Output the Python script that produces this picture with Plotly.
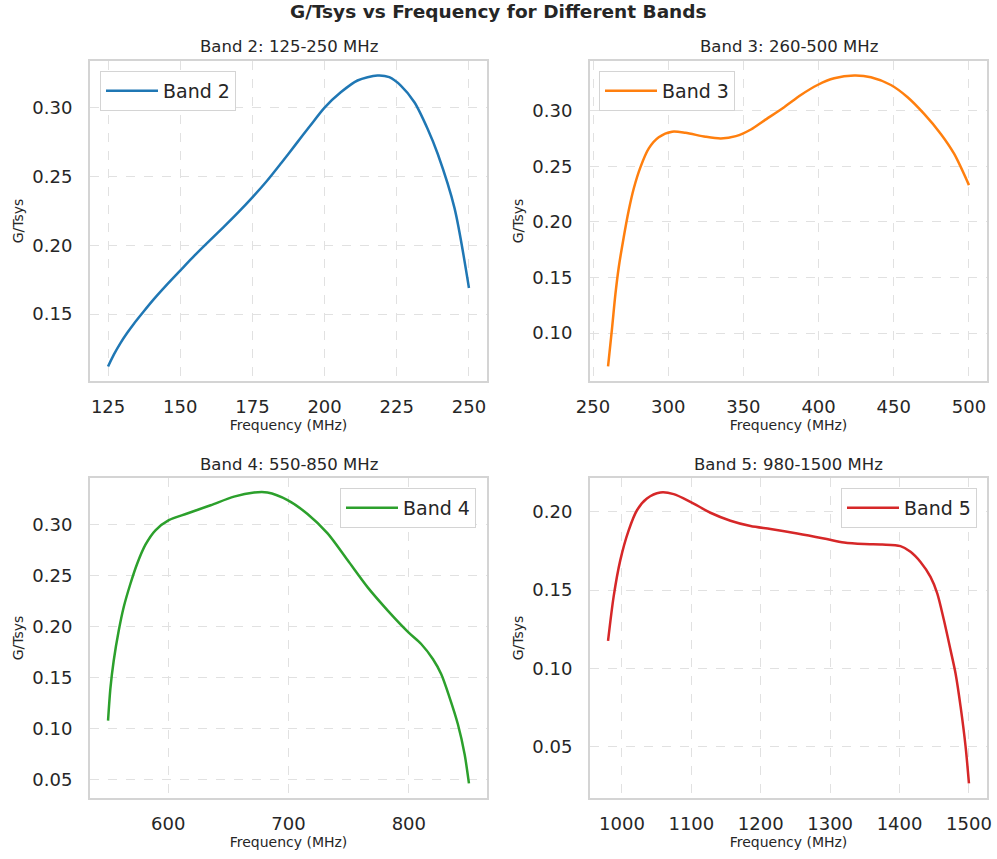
import plotly.graph_objects as go

# ---------------- data ----------------
band2_freq = [125, 127, 129.3, 131.6, 133.9, 137.4, 140.8, 145, 150, 155, 160, 165,
              170, 175, 180, 185, 190, 195, 200, 205.6, 211.4, 218.3, 222.4, 226.4,
              231.1, 235.7, 239.2, 245, 250]
band2_gt = [0.112, 0.1206, 0.129, 0.1363, 0.1429, 0.1521, 0.1607, 0.1705, 0.1816,
            0.1926, 0.2030, 0.2132, 0.2237, 0.2348, 0.2467, 0.2598, 0.2733, 0.2868,
            0.300, 0.3111, 0.3197, 0.3233, 0.3221, 0.316, 0.3039, 0.2845, 0.2663,
            0.227, 0.169]

band3_freq = [260, 262.7, 264.9, 267.1, 270.4, 273.7, 277.1, 281.5, 287.1, 293.7,
              302.6, 311.5, 324.8, 335, 345, 355, 363.8, 377.1, 388.2, 399.3, 410.4,
              423.7, 434.8, 448.1, 459.2, 470.2, 481.3, 490.2, 500]
band3_gt = [0.070, 0.105, 0.135, 0.159, 0.186, 0.210, 0.230, 0.249, 0.266, 0.276,
            0.281, 0.280, 0.2765, 0.275, 0.277, 0.283, 0.291, 0.303, 0.314, 0.323,
            0.329, 0.3315, 0.330, 0.323, 0.312, 0.297, 0.279, 0.261, 0.233]

band4_freq = [550, 552, 554.7, 558.9, 563, 568.6, 574.2, 581.1, 589.4, 600.5, 615.8,
              635.3, 654.7, 671.4, 682.5, 699.2, 715.8, 732.5, 749.2, 766, 782.5,
              799.7, 810.3, 820, 826.9, 833.9, 840.8, 846.4, 850]
band4_gt = [0.108, 0.140, 0.1665, 0.196, 0.2188, 0.2418, 0.2614, 0.280, 0.2941,
            0.304, 0.3105, 0.3186, 0.327, 0.331, 0.331, 0.3236, 0.310, 0.291,
            0.2647, 0.2380, 0.2156, 0.1943, 0.1829, 0.1682, 0.1535, 0.1305, 0.1044,
            0.075, 0.0465]

band5_freq = [980, 988, 997.6, 1009.6, 1021.7, 1036, 1055.3, 1074.6, 1098.6, 1127.5,
              1156.4, 1185.3, 1214.1, 1252.6, 1291, 1320, 1348.9, 1375, 1401.3,
              1415.8, 1430.2, 1444.6, 1454.3, 1463.9, 1473.5, 1480.7, 1488, 1495.2,
              1500]
band5_gt = [0.1176, 0.1457, 0.169, 0.188, 0.201, 0.2085, 0.2123, 0.2113, 0.2064,
            0.1994, 0.1943, 0.1909, 0.189, 0.1862, 0.183, 0.1804, 0.1794, 0.1791,
            0.1781, 0.1745, 0.168, 0.1585, 0.148, 0.1309, 0.1117, 0.0968, 0.0755,
            0.050, 0.0266]

band_names = ["Band 2", "Band 3", "Band 4", "Band 5"]
band_titles = ["Band 2: 125-250 MHz", "Band 3: 260-500 MHz",
               "Band 4: 550-850 MHz", "Band 5: 980-1500 MHz"]
band_colors = ["#1f77b4", "#ff7f0e", "#2ca02c", "#d62728"]
x_dticks = [25, 50, 100, 100]
y_dticks = [0.05, 0.05, 0.05, 0.05]
main_title = "G/Tsys vs Frequency for Different Bands"
x_label = "Frequency (MHz)"
y_label = "G/Tsys"

freqs = [band2_freq, band3_freq, band4_freq, band5_freq]
values = [band2_gt, band3_gt, band4_gt, band5_gt]

# ---------------- layout geometry ----------------
W, H = 997, 859
FONT = "DejaVu Sans"
TXT = "#262626"
# pixel boxes of the 4 axes: (left, right, top, bottom)
boxes = [(90, 487, 61, 381), (590, 987, 61, 381),
         (90, 487, 478, 798), (590, 987, 478, 798)]
legend_pos = [(100, 71, "left"), (599, 71, "left"),
              (476, 488, "right"), (977, 488, "right")]


def pad(seq, frac=0.05):
    lo, hi = min(seq), max(seq)
    d = (hi - lo) * frac
    return [lo - d, hi + d]


fig = go.Figure()
layout = dict(
    width=W, height=H,
    margin=dict(l=0, r=0, t=0, b=0, autoexpand=False),
    paper_bgcolor="white", plot_bgcolor="white",
    font=dict(family=FONT, color=TXT),
    showlegend=True,
    annotations=[],
)

for i in range(4):
    sfx = "" if i == 0 else str(i + 1)
    leg = "legend" + sfx
    fig.add_trace(go.Scatter(
        x=freqs[i], y=values[i], mode="lines", name=band_names[i],
        line=dict(color=band_colors[i], width=2.5, shape="spline", smoothing=0.8),
        xaxis="x" + sfx, yaxis="y" + sfx, legend=leg,
    ))
    l, r, t, b = boxes[i]
    grid = dict(showgrid=True, gridcolor="#e1e1e1", griddash="dash", gridwidth=1,
                showline=True, linecolor="#d4d4d4", linewidth=2, mirror=True,
                zeroline=False, ticks="", automargin=False,
                tickfont=dict(size=18, color=TXT, family=FONT))
    layout["xaxis" + sfx] = dict(
        domain=[l / W, r / W], anchor="y" + sfx, range=pad(freqs[i]),
        dtick=x_dticks[i], tick0=0, ticklabelstandoff=8,
        title=dict(text=x_label, font=dict(size=14, color=TXT, family=FONT), standoff=2),
        **grid)
    layout["yaxis" + sfx] = dict(
        domain=[1 - b / H, 1 - t / H], anchor="x" + sfx, range=pad(values[i]),
        dtick=y_dticks[i], tick0=0, tickformat=".2f", ticklabelstandoff=12,
        title=dict(text=y_label, font=dict(size=14, color=TXT, family=FONT), standoff=5),
        **grid)
    lx, ly, xa = legend_pos[i]
    layout[leg] = dict(
        x=lx / W, y=1 - ly / H, xanchor=xa, yanchor="top",
        xref="paper", yref="paper", itemwidth=52,
        bgcolor="white", bordercolor="#d4d4d4", borderwidth=1,
        font=dict(size=19, color=TXT, family=FONT),
    )
    layout["annotations"].append(dict(
        text=band_titles[i], x=(l + r) / 2 / W, y=1 - (t - 14) / H,
        xref="paper", yref="paper", xanchor="center", yanchor="middle",
        showarrow=False, font=dict(size=16.5, color=TXT, family=FONT)))

layout["annotations"].append(dict(
    text="<b>" + main_title + "</b>", x=0.5, y=1 - 11 / H,
    xref="paper", yref="paper", xanchor="center", yanchor="middle",
    showarrow=False, font=dict(size=18.5, color=TXT, family=FONT)))

fig.update_layout(**layout)
fig.write_html("out.html")
